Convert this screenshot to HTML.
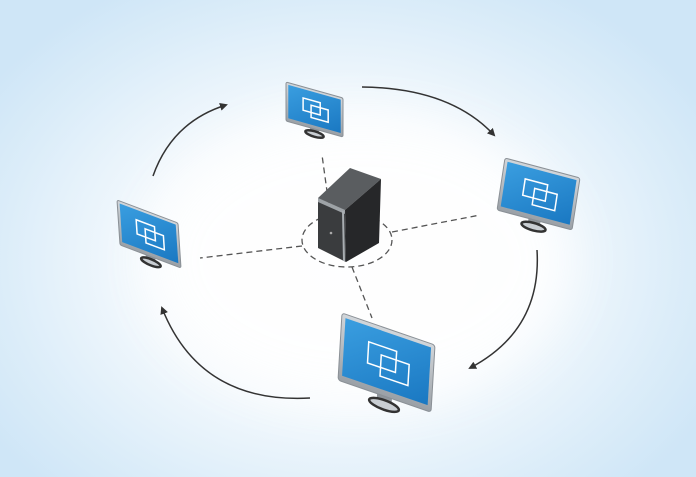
<!DOCTYPE html>
<html><head><style>
html,body{margin:0;padding:0;width:696px;height:477px;overflow:hidden}
</style></head><body>
<svg width="696" height="477" viewBox="0 0 696 477" xmlns="http://www.w3.org/2000/svg">
<defs>
<radialGradient id="bg" cx="340" cy="260" r="420" gradientUnits="userSpaceOnUse" gradientTransform="translate(340 260) scale(1 0.75) translate(-340 -260)">
<stop offset="0" stop-color="#ffffff"/>
<stop offset="0.45" stop-color="#f6fafd"/>
<stop offset="0.8" stop-color="#dcedf9"/>
<stop offset="1" stop-color="#cfe6f7"/>
</radialGradient>
<filter id="blur" x="-30%" y="-30%" width="160%" height="160%"><feGaussianBlur stdDeviation="25"/></filter>
<linearGradient id="scr" x1="0" y1="0" x2="1" y2="1">
<stop offset="0" stop-color="#3a9ee0"/>
<stop offset="1" stop-color="#1a78c2"/>
</linearGradient>
<linearGradient id="bez" x1="0" y1="0" x2="0" y2="1">
<stop offset="0" stop-color="#d2d6da"/>
<stop offset="1" stop-color="#9aa0a6"/>
</linearGradient>
<marker id="ah" markerWidth="8" markerHeight="8" refX="6" refY="4" orient="auto" markerUnits="userSpaceOnUse">
<path d="M0,0 L8,4 L0,8 Z" fill="#333"/>
</marker>
<g id="mon">
<rect x="42" y="66" width="16" height="10" fill="#8f959b"/>
<ellipse cx="50" cy="79" rx="16" ry="5" fill="#c9ced3" stroke="#333" stroke-width="2.5" vector-effect="non-scaling-stroke"/>
<rect x="0" y="0" width="100" height="70" rx="3" fill="url(#bez)" stroke="#8a9096" stroke-width="1" vector-effect="non-scaling-stroke"/>
<rect x="4" y="4" width="92" height="60" fill="url(#scr)"/>
<rect x="30" y="20" width="30" height="22" fill="none" stroke="#fff" stroke-width="1.5" vector-effect="non-scaling-stroke"/>
<rect x="44" y="29" width="30" height="22" fill="none" stroke="#fff" stroke-width="1.5" vector-effect="non-scaling-stroke"/>
</g>
</defs>
<rect width="696" height="477" fill="url(#bg)"/>
<ellipse cx="360" cy="260" rx="210" ry="140" fill="#fff" opacity="0.85" filter="url(#blur)"/>

<g stroke="#555" stroke-width="1.3" stroke-dasharray="6,4" fill="none">
<ellipse cx="347" cy="240" rx="45" ry="27"/>
<line x1="330" y1="213" x2="322" y2="155"/>
<line x1="392" y1="232" x2="480" y2="215"/>
<line x1="302" y1="246" x2="200" y2="258"/>
<line x1="352" y1="267" x2="372" y2="318"/>
</g>

<g stroke="#333" stroke-width="1.5" fill="none" marker-end="url(#ah)">
<path d="M153,176 Q172,122 226,105"/>
<path d="M362,87 Q450,88 494,135"/>
<path d="M537,250 Q542,330 470,368"/>
<path d="M310,398 Q200,404 162,308"/>
</g>

<use href="#mon" transform="matrix(0.57 0.16 0 0.557 286 82)"/>
<use href="#mon" transform="matrix(0.75 0.2 -0.114 0.743 505 158)"/>
<use href="#mon" transform="matrix(0.61 0.23 0.043 0.643 117 200)"/>
<use href="#mon" transform="matrix(0.93 0.32 -0.057 0.96 342 313)"/>

<polygon points="318,198 350,168 381,179 345,210" fill="#5a5d60"/>
<polygon points="345,210 381,179 379,243 346,262" fill="#262729"/>
<polygon points="318,198 345,210 346,262 318,248" fill="#3a3c3e"/>
<polygon points="318,198 345,210 345,214 318,202" fill="#9ea3a7"/>
<line x1="343" y1="211" x2="344" y2="261" stroke="#a8adb1" stroke-width="2"/>
<circle cx="331" cy="233" r="1.3" fill="#aaa"/>
</svg>
</body></html>
